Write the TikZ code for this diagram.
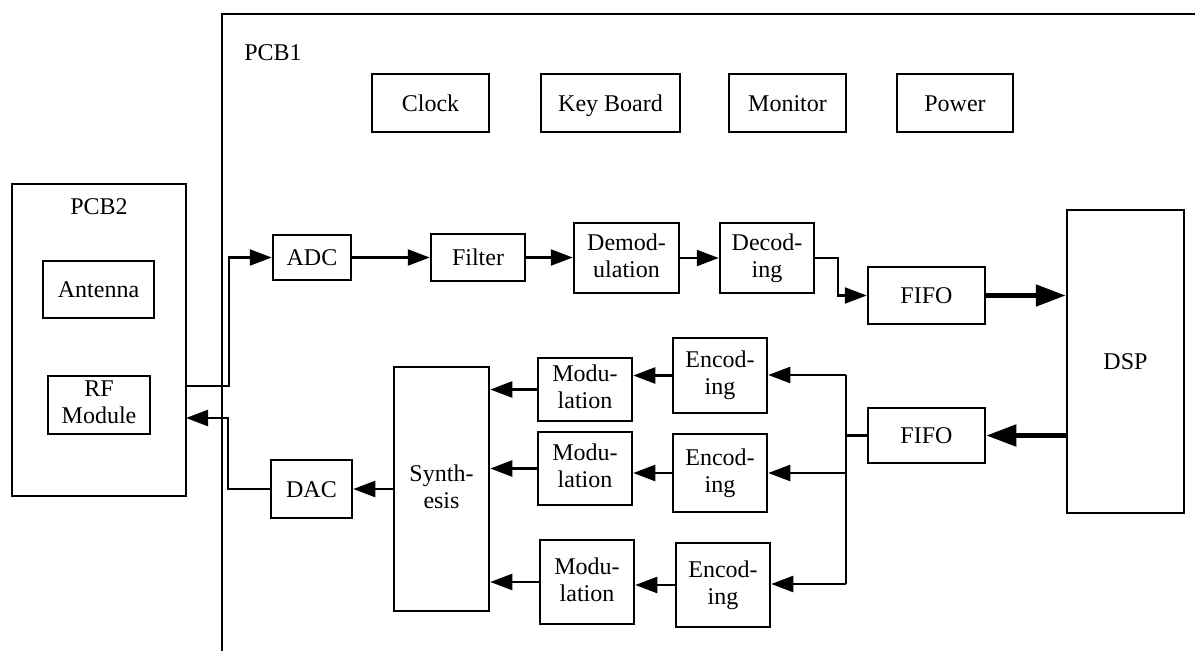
\documentclass[tikz,border=0pt]{standalone}
\usepackage{fontspec}
\setmainfont{Liberation Serif}
\usetikzlibrary{arrows.meta,calc}
\newcommand{\mystrut}{\rule[-5.5pt]{0pt}{27pt}}
\begin{document}
\begin{tikzpicture}[x=1pt,y=-1pt,
  box/.style={draw,line width=2.5pt,inner sep=0pt,align=center,font=\fontsize{24}{27}\selectfont,
    execute at begin node=\mystrut, execute at end node=\mystrut},
  lbl/.style={inner sep=0pt,font=\fontsize{24}{27}\selectfont},
  conn/.style={line width=2.4pt},
  arr/.style={line width=2.4pt,-{Triangle[length=22pt,width=16pt]}},
  thick arr/.style={line width=5pt,-{Triangle[length=30pt,width=21pt]}}]
\useasboundingbox[fill=white] (0,0) rectangle (1195,651);
% PCB1 frame
\coordinate (f1) at (222,651);
\coordinate (f2) at (222,14);
\coordinate (f3) at (1195,14);
\draw[line width=2.5pt] (f1) -- (f2) -- (f3);
\node[lbl] (pcb1) at (273,53) {PCB1};
% PCB2
\node[box,minimum width=174pt,minimum height=312pt] (PCB2) at (99,340) {};
\node[lbl] (pcb2l) at (99,207) {PCB2};
\node[box,minimum width=111pt,minimum height=57pt] (Ant) at (98.5,289.5) {Antenna};
\node[box,minimum width=102pt,minimum height=58pt] (RF) at (99,405) {RF\\Module};
% top boxes
\node[box,minimum width=117pt,minimum height=58pt] (Clock) at (430.5,103) {Clock};
\node[box,minimum width=139pt,minimum height=58pt] (Key) at (610.5,103) {Key Board};
\node[box,minimum width=117pt,minimum height=58pt] (Mon) at (787.5,103) {Monitor};
\node[box,minimum width=116pt,minimum height=58pt] (Pow) at (955,103) {Power};
% receive chain
\node[box,minimum width=78pt,minimum height=45pt] (ADC) at (312,257.5) {ADC};
\node[box,minimum width=94pt,minimum height=47pt] (Filter) at (478,257.5) {Filter};
\node[box,minimum width=105pt,minimum height=70pt] (Demod) at (626.5,258) {Demod-\\ulation};
\node[box,minimum width=94pt,minimum height=70pt] (Dec) at (767,258) {Decod-\\ing};
\node[box,minimum width=117pt,minimum height=57pt] (FIFO1) at (926.5,295.5) {FIFO};
\node[box,minimum width=117pt,minimum height=303pt] (DSP) at (1125.5,361.5) {DSP};
\node[box,minimum width=117pt,minimum height=55pt] (FIFO2) at (926.5,435.5) {FIFO};
% transmit chain
\node[box,minimum width=94pt,minimum height=75pt] (Enc1) at (720,375.5) {Encod-\\ing};
\node[box,minimum width=94pt,minimum height=78pt] (Enc2) at (720,473) {Encod-\\ing};
\node[box,minimum width=94pt,minimum height=84pt] (Enc3) at (723,585) {Encod-\\ing};
\node[box,minimum width=94pt,minimum height=63pt] (Mod1) at (585,389.5) {Modu-\\lation};
\node[box,minimum width=94pt,minimum height=73pt] (Mod2) at (585,468.5) {Modu-\\lation};
\node[box,minimum width=94pt,minimum height=84pt] (Mod3) at (587,582) {Modu-\\lation};
\node[box,minimum width=95pt,minimum height=244pt] (Syn) at (441.5,489) {Synth-\\esis};
\node[box,minimum width=81pt,minimum height=58pt] (DAC) at (311.5,489) {DAC};
% connectors
\coordinate (p2o) at (186,386);
\coordinate (p2i) at (186,418);
\coordinate (bt) at (846,375);
\coordinate (bb) at (846,584);
\draw[arr] (p2o) -- ++(43,0) |- (ADC.west);
\draw[arr] (ADC.east) -- (Filter.west);
\draw[arr] (Filter.east) -- (Demod.west |- Filter.east);
\draw[arr] (Demod.east) -- (Dec.west);
\draw[arr] (Dec.east) -- ++(23,0) |- (FIFO1.west);
\draw[thick arr] (FIFO1.east) -- (DSP.west |- FIFO1.east);
\draw[thick arr] (DSP.west |- FIFO2.east) -- (FIFO2.east);
\draw[conn] (FIFO2.west) -- (FIFO2.west -| bt);
\draw[conn] (bt) -- (bb);
\draw[arr] (bt) -- (Enc1.east |- bt);
\draw[arr] (bt |- Enc2.east) -- (Enc2.east);
\draw[arr] (bb) -- (Enc3.east |- bb);
\draw[arr] (Enc1.west) -- (Mod1.east |- Enc1.west);
\draw[arr] (Enc2.west) -- (Mod2.east |- Enc2.west);
\draw[arr] (Enc3.west) -- (Mod3.east |- Enc3.west);
\draw[arr] (Mod1.west) -- (Syn.east |- Mod1.west);
\draw[arr] (Mod2.west) -- (Syn.east |- Mod2.west);
\draw[arr] (Mod3.west) -- (Syn.east |- Mod3.west);
\draw[arr] (Syn.west |- DAC.east) -- (DAC.east);
\draw[arr] (DAC.west) -- ++(-42,0) |- (p2i);
\end{tikzpicture}
\end{document}
